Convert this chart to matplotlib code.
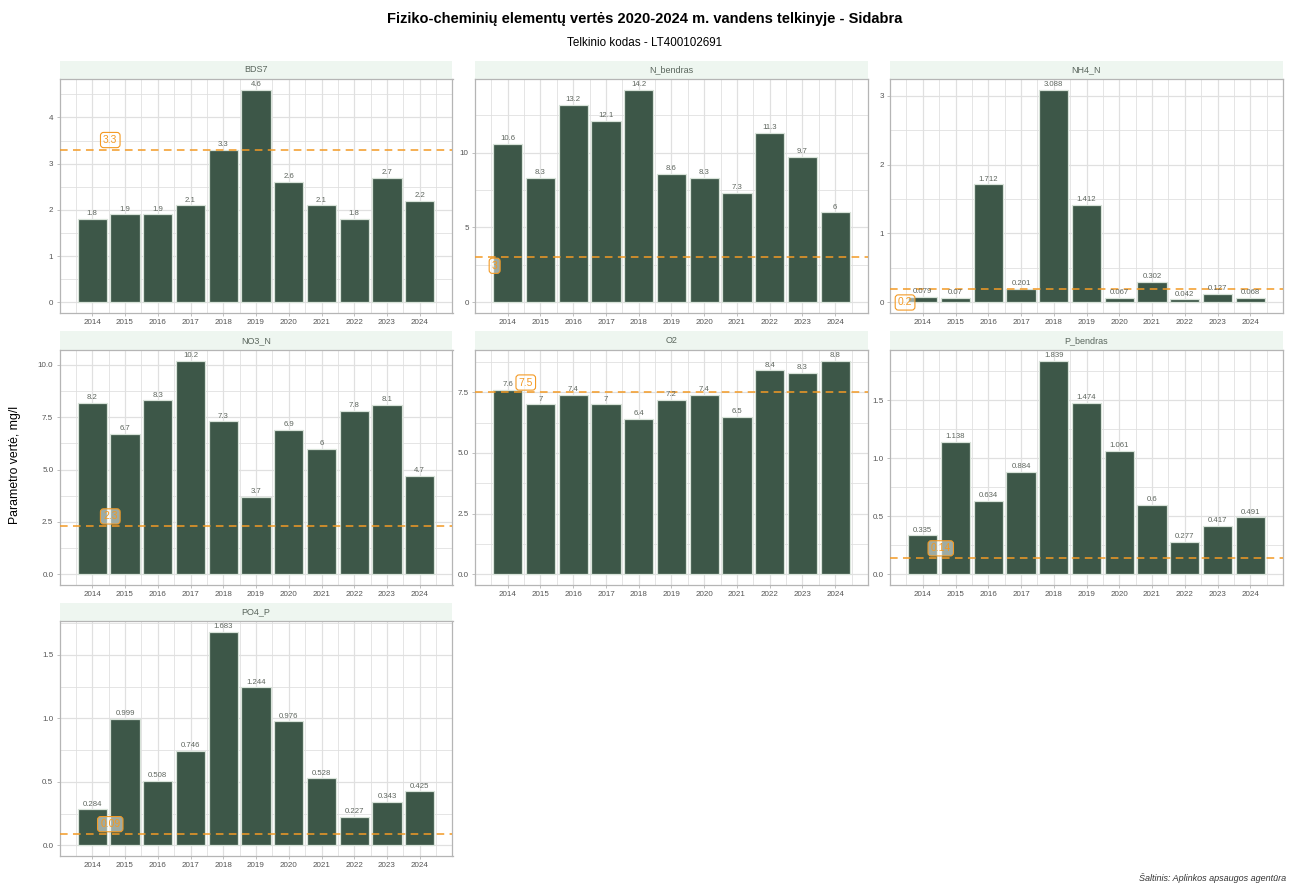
import matplotlib
matplotlib.use("Agg")
import matplotlib.pyplot as plt
from matplotlib.patches import Rectangle
from matplotlib.ticker import MultipleLocator, FixedLocator

plt.rcParams['font.family'] = ['Liberation Sans', 'DejaVu Sans']

years = [2014, 2015, 2016, 2017, 2018, 2019, 2020, 2021, 2022, 2023, 2024]
params = ['BDS7', 'N_bendras', 'NH4_N', 'NO3_N', 'O2', 'P_bendras', 'PO4_P']

bds7 = [1.8, 1.9, 1.9, 2.1, 3.3, 4.6, 2.6, 2.1, 1.8, 2.7, 2.2]
n_bendras = [10.6, 8.3, 13.2, 12.1, 14.2, 8.6, 8.3, 7.3, 11.3, 9.7, 6]
nh4_n = [0.079, 0.07, 1.712, 0.201, 3.088, 1.412, 0.067, 0.302, 0.042, 0.127, 0.068]
no3_n = [8.2, 6.7, 8.3, 10.2, 7.3, 3.7, 6.9, 6, 7.8, 8.1, 4.7]
o2 = [7.6, 7, 7.4, 7, 6.4, 7.2, 7.4, 6.5, 8.4, 8.3, 8.8]
p_bendras = [0.335, 1.138, 0.634, 0.884, 1.839, 1.474, 1.061, 0.6, 0.277, 0.417, 0.491]
po4_p = [0.284, 0.999, 0.508, 0.746, 1.683, 1.244, 0.976, 0.528, 0.227, 0.343, 0.425]

thresholds = [3.3, 3, 0.2, 2.3, 7.5, 0.14, 0.09]

values = [bds7, n_bendras, nh4_n, no3_n, o2, p_bendras, po4_p]

# y tick step per panel
ystep = {'BDS7': 1, 'N_bendras': 5, 'NH4_N': 1, 'NO3_N': 2.5, 'O2': 2.5,
         'P_bendras': 0.5, 'PO4_P': 0.5}
# threshold label placement (x, offset in points)
lab_place = {'N_bendras': (2013.6, -6), 'NH4_N': (2013.46, -10)}

W, H = 1290, 884
fig = plt.figure(figsize=(W / 100, H / 100), dpi=100)

col_l = [59.5, 475, 890]
col_w = 393
row_t = [79, 350, 621]
row_b = [313, 585, 856]
strip_h = 18.5

bar_col = '#3d5748'
orange = '#f39a25'
grid_col = '#e0e0e0'

for i, (name, vals, thr) in enumerate(zip(params, values, thresholds)):
    r, c = divmod(i, 3)
    x0 = col_l[c] / W
    y0 = 1 - row_b[r] / H
    h = (row_b[r] - row_t[r]) / H
    ax = fig.add_axes([x0, y0, col_w / W, h])

    ax.bar(years, vals, width=0.9, color=bar_col, edgecolor='#d8e3d9', linewidth=0.9, zorder=2)
    for yr, v in zip(years, vals):
        ax.annotate('{:g}'.format(v), (yr, v), xytext=(0, 1.2), textcoords='offset points',
                    ha='center', va='bottom', fontsize=5.6, color='#5f665f', zorder=4)

    ax.axhline(thr, color=orange, linestyle=(0, (5, 3.5)), linewidth=1.1, zorder=3)
    lx, off = lab_place.get(name, (2014.55, 7))
    ax.annotate('{:g}'.format(thr), (lx, thr), xytext=(0, off), textcoords='offset points',
                ha='center', va='center', fontsize=7.5, color=orange, zorder=5,
                bbox=dict(boxstyle='round,pad=0.25,rounding_size=0.3', fc=(1, 1, 1, 0.5),
                          ec=orange, lw=0.8))

    top = max(vals)
    ax.set_ylim(-0.05 * top, 1.05 * top)
    ax.set_xlim(2013.0, 2025.0)
    ax.set_xticks(years)
    ax.set_xticklabels([str(y) for y in years])
    ax.xaxis.set_minor_locator(FixedLocator([y + 0.5 for y in range(2012, 2026)]))
    ax.yaxis.set_major_locator(MultipleLocator(ystep[name]))
    ax.yaxis.set_minor_locator(MultipleLocator(ystep[name] / 2))

    ax.grid(True, which='major', color=grid_col, linewidth=0.9, zorder=0)
    ax.grid(True, which='minor', color=grid_col, linewidth=0.6, zorder=0)
    ax.set_axisbelow(True)
    ax.tick_params(which='major', labelsize=5.8, labelcolor='#555555', color='#b5b5b5',
                   length=2.5, width=0.6, pad=2)
    ax.tick_params(which='minor', length=0)
    for s in ax.spines.values():
        s.set_color('#b5b5b5')
        s.set_linewidth(0.9)
    ax.set_facecolor('white')

    # strip
    sh = strip_h / (row_b[r] - row_t[r])
    ax.add_patch(Rectangle((0, 1), 1, sh, transform=ax.transAxes, facecolor='#eef6f0',
                           edgecolor='none', clip_on=False, zorder=1))
    ax.text(0.5, 1 + sh / 2, name, transform=ax.transAxes, ha='center', va='center',
            fontsize=6.5, color='#5a665d')

fig.text(0.5, 1 - 19 / H, 'Fiziko-cheminių elementų vertės 2020-2024 m. vandens telkinyje - Sidabra',
         ha='center', va='center', fontsize=10.5, fontweight='bold', color='black')
fig.text(0.5, 1 - 43 / H, 'Telkinio kodas - LT400102691', ha='center', va='center',
         fontsize=8.4, color='black')
fig.text(15 / W, 1 - 465 / H, 'Parametro vertė, mg/l', rotation=90, ha='center', va='center',
         fontsize=8.8, color='black')
fig.text(1286 / W, 1 - 878 / H, 'Šaltinis: Aplinkos apsaugos agentūra', ha='right', va='center',
         fontsize=6.5, style='italic', color='#333333')

fig.savefig('out.png', dpi=100, facecolor='white')
